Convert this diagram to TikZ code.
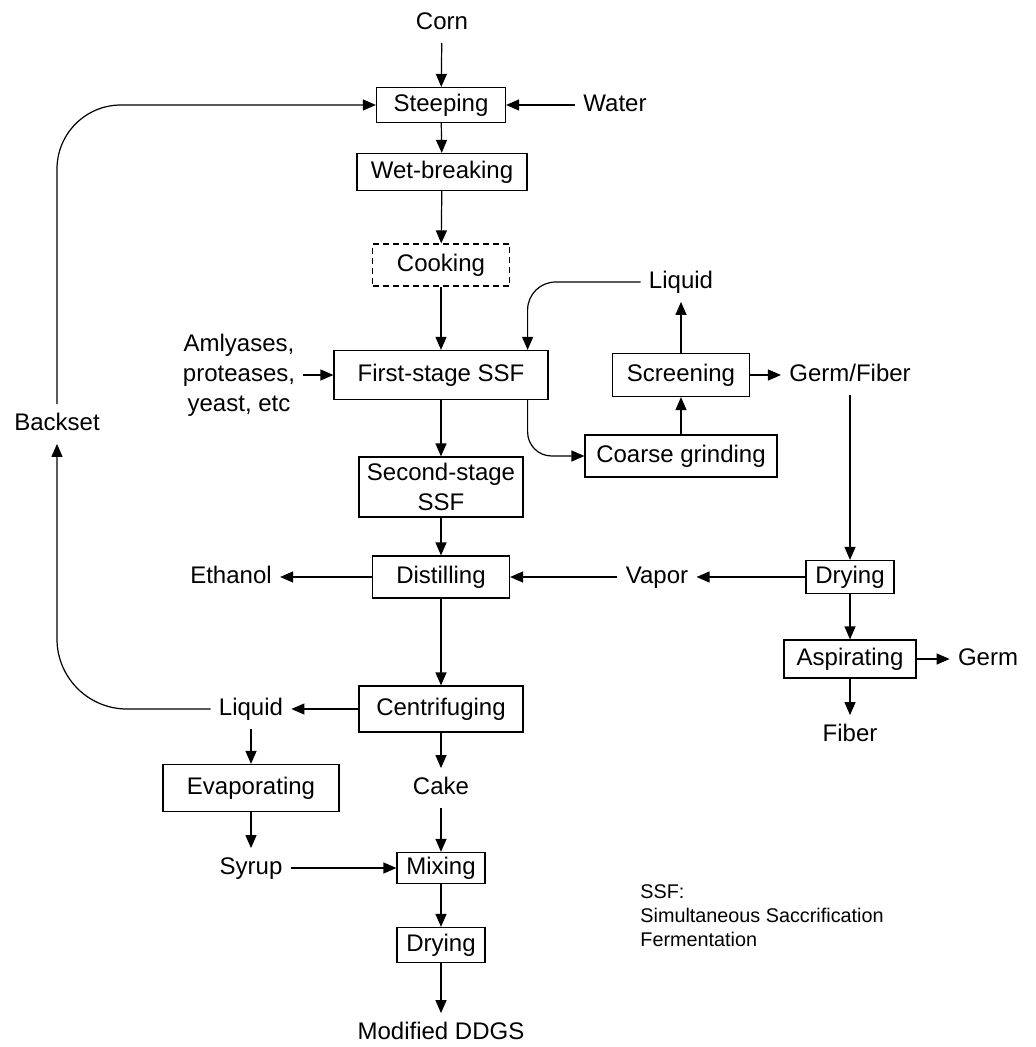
\documentclass[tikz,border=0pt]{standalone}
\usepackage{fontspec}
\setmainfont{Liberation Sans}
\usetikzlibrary{arrows.meta}

\tikzset{
  proc/.style={draw, line width=0.6pt, inner sep=0pt, align=center},
  lbl/.style={inner sep=4pt, text height=9pt, text depth=2.5pt},
  flow/.style={line width=0.6pt, -{Triangle[length=6.5pt,width=5.5pt]}},
}

\begin{document}
\begin{tikzpicture}[x=0.5pt, y=-0.5pt, every node/.style={font=\fontsize{12}{15}\selectfont}]
\useasboundingbox (0,0) rectangle (1035,1047);

% main line
\node[lbl] (corn) at (442,23) {Corn};
\node[proc, minimum width=64.5pt, minimum height=17.5pt] (steep) at (441,105) {Steeping};
\node[lbl] (water) at (615,105) {Water};
\node[proc, minimum width=85pt, minimum height=18.5pt] (wet) at (442,172) {Wet-breaking};
\node[proc, densely dashed, minimum width=68.5pt, minimum height=21pt] (cook) at (441,265) {Cooking};
\node[proc, minimum width=107pt, minimum height=24.5pt] (first) at (441,375) {First-stage SSF};
\node[inner sep=4pt, align=center] (amyl) at (239,375) {Amlyases,\\proteases,\\yeast, etc};
\node[proc, minimum width=82pt, minimum height=30pt] (second) at (441,487) {Second-stage\\SSF};
\node[proc, minimum width=68.5pt, minimum height=21pt] (dist) at (441,577) {Distilling};
\node[lbl] (ethanol) at (231,577) {Ethanol};
\node[proc, minimum width=82pt, minimum height=23pt] (cent) at (441,709) {Centrifuging};
\node[lbl] (cake) at (441,788) {Cake};
\node[proc, minimum width=44pt, minimum height=15.5pt] (mix) at (441,868) {Mixing};
\node[proc, minimum width=44pt, minimum height=17.5pt] (dry1) at (441,945) {Drying};
\node[lbl] (ddgs) at (441,1033) {Modified DDGS};

% backset and syrup
\node[lbl] (backset) at (57,424) {Backset};
\node[lbl] (liqlow) at (251,709) {Liquid};
\node[proc, minimum width=88pt, minimum height=23.5pt] (evap) at (251,788) {Evaporating};
\node[lbl] (syrup) at (251,868) {Syrup};

% germ and fiber
\node[lbl] (liqtop) at (681,282) {Liquid};
\node[proc, minimum width=68.5pt, minimum height=21.5pt] (screen) at (681,375) {Screening};
\node[proc, minimum width=96pt, minimum height=21pt] (coarse) at (681,456) {Coarse grinding};
\node[lbl] (germfiber) at (850,375) {Germ/Fiber};
\node[proc, minimum width=44pt, minimum height=16.5pt] (dry2) at (850,577) {Drying};
\node[lbl] (vapor) at (657,577) {Vapor};
\node[proc, minimum width=66pt, minimum height=19pt] (asp) at (850,659) {Aspirating};
\node[lbl] (germ) at (988,659) {Germ};
\node[lbl] (fiber) at (850,735) {Fiber};

\node[anchor=north west, inner sep=0pt, align=left, font=\fontsize{9.9}{12}\selectfont] (note) at (640,884) {SSF:\\Simultaneous Saccrification\\Fermentation};

\draw[flow] (corn) -- (steep);
\draw[flow] (water) -- (steep);
\draw[flow] (steep) -- (wet);
\draw[flow] (wet) -- (cook);
\draw[flow] (cook) -- (first);
\draw[flow] (amyl) -- (first);
\draw[flow] (first) -- (second);
\draw[flow] (second) -- (dist);
\draw[flow] (dist) -- (ethanol);
\draw[flow] (dist) -- (cent);
\draw[flow] (cent) -- (liqlow);
\draw[flow] (cent) -- (cake);
\draw[flow] (cake) -- (mix);
\draw[flow] (mix) -- (dry1);
\draw[flow] (dry1) -- (ddgs);
\draw[flow] (liqlow) -- (evap);
\draw[flow] (evap) -- (syrup);
\draw[flow] (syrup) -- (mix);
\draw[flow, rounded corners=35pt] (liqlow.west) -| (backset.south);
\draw[flow, rounded corners=32pt] (backset.north) |- (steep.west);

\draw[flow, rounded corners=14pt] (liqtop.west) -| ([xshift=-10.5pt]first.north east);
\draw[flow, rounded corners=12pt] ([xshift=-10.5pt]first.south east) |- (coarse.west);
\draw[flow] (coarse) -- (screen);
\draw[flow] (screen.north) -- (screen.north |- liqtop.south);
\draw[flow] (screen) -- (germfiber);
\draw[flow] (germfiber) -- (dry2);
\draw[flow] (dry2) -- (vapor);
\draw[flow] (vapor) -- (dist);
\draw[flow] (dry2) -- (asp);
\draw[flow] (asp) -- (germ);
\draw[flow] (asp) -- (fiber);
\end{tikzpicture}
\end{document}
